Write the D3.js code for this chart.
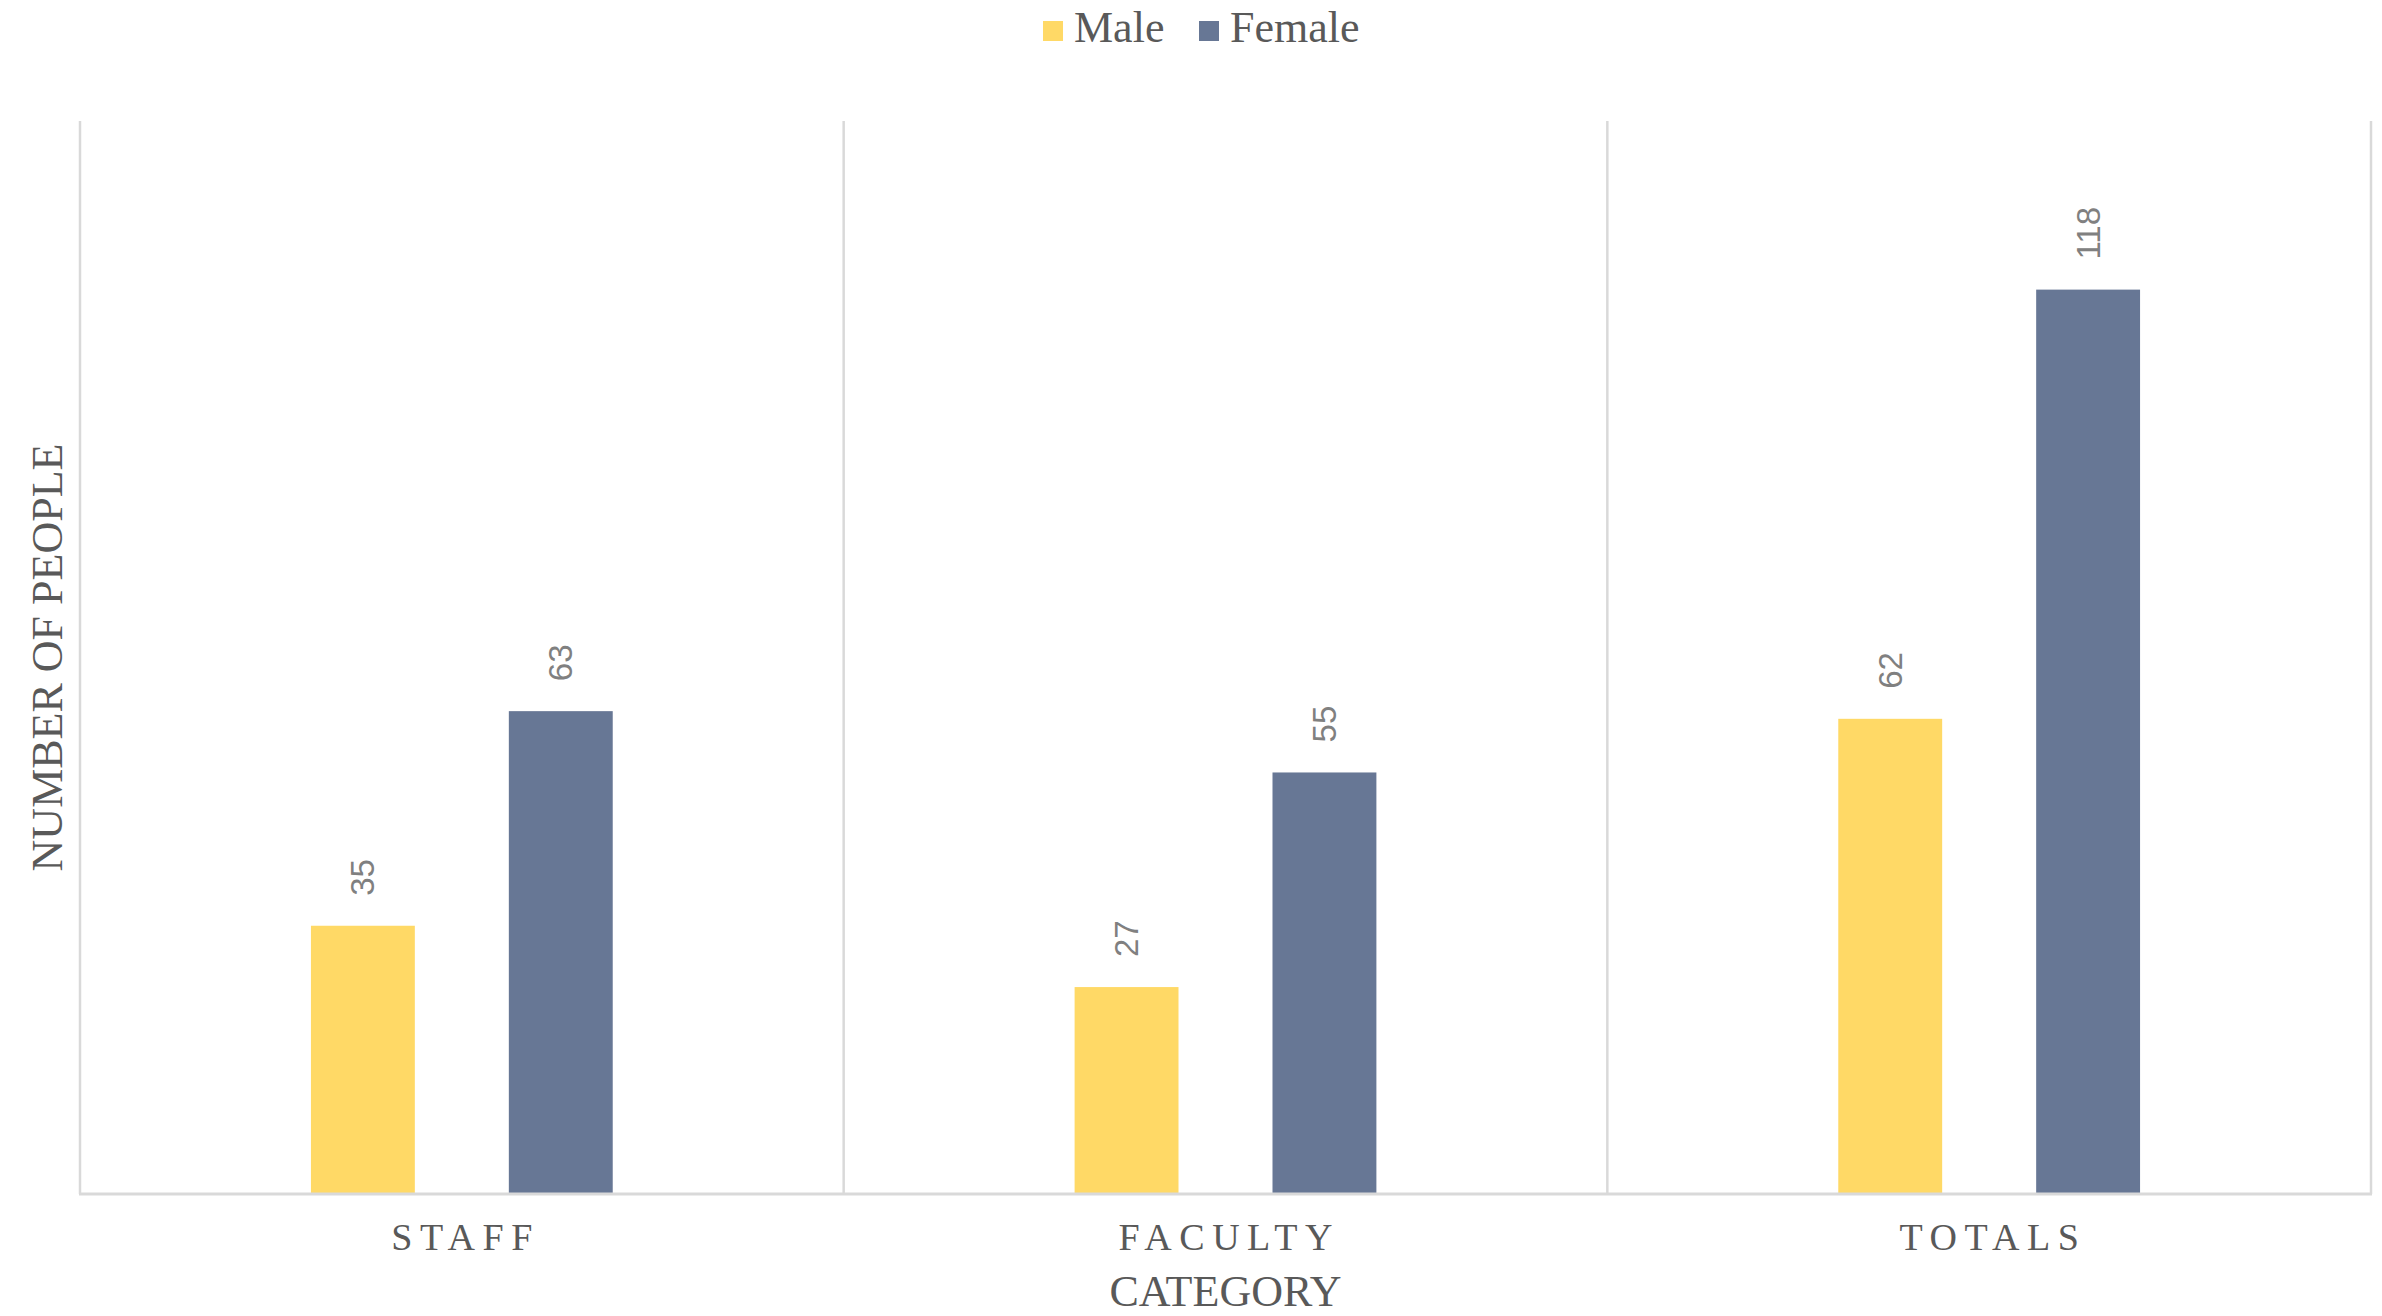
<!DOCTYPE html>
<html>
<head>
<meta charset="utf-8">
<script src="https://cdn.jsdelivr.net/npm/d3@7"></script>
<style>
  html, body { margin: 0; padding: 0; background: #ffffff; }
  svg { display: block; }
</style>
</head>
<body>
<script>
const categories = ["STAFF", "FACULTY", "TOTALS"];
const seriesNames = ["Male", "Female"];
const maleValues = [35, 27, 62];
const femaleValues = [63, 55, 118];
const seriesColors = ["#FFD966", "#677795"];
const yAxisTitle = "NUMBER OF PEOPLE";
const xAxisTitle = "CATEGORY";

const W = 2382, H = 1316;
const plot = { left: 80, right: 2371, top: 121, bottom: 1194 };

const svg = d3.select("body").append("svg").attr("width", W).attr("height", H);

const x = d3.scaleBand().domain(categories).range([plot.left, plot.right]).padding(0);
const xs = d3.scaleBand().domain(seriesNames).range([0, x.bandwidth()])
  .paddingInner(0.475).paddingOuter(1.167);
const y = d3.scaleLinear().domain([0, 140]).range([plot.bottom, plot.top]);

const data = categories.map((c, i) => ({
  cat: c,
  vals: [ { s: "Male", v: maleValues[i] }, { s: "Female", v: femaleValues[i] } ]
}));

// vertical gridlines at category boundaries
const bounds = categories.map(c => x(c)).concat([x(categories[categories.length - 1]) + x.bandwidth()]);
svg.append("g").selectAll("line").data(bounds).join("line")
  .attr("x1", d => d).attr("x2", d => d)
  .attr("y1", plot.top).attr("y2", plot.bottom)
  .attr("stroke", "#d9d9d9").attr("stroke-width", 2.5);

// bars
const groups = svg.append("g").selectAll("g").data(data).join("g")
  .attr("transform", d => `translate(${x(d.cat)},0)`);

groups.selectAll("rect").data(d => d.vals).join("rect")
  .attr("x", d => xs(d.s))
  .attr("width", xs.bandwidth())
  .attr("y", d => y(d.v))
  .attr("height", d => y(0) - y(d.v))
  .attr("fill", (d, i) => seriesColors[seriesNames.indexOf(d.s)]);

// data labels (rotated)
groups.selectAll("text").data(d => d.vals).join("text")
  .attr("transform", d => `translate(${xs(d.s) + xs.bandwidth() / 2},${y(d.v) - 30}) rotate(-90)`)
  .attr("text-anchor", "start")
  .attr("dominant-baseline", "central")
  .attr("font-family", "'Liberation Sans', Arial, sans-serif")
  .attr("font-size", 33)
  .attr("fill", "#808080")
  .text(d => d.v);

// x axis line
svg.append("line")
  .attr("x1", plot.left - 1).attr("x2", plot.right + 1)
  .attr("y1", plot.bottom).attr("y2", plot.bottom)
  .attr("stroke", "#d9d9d9").attr("stroke-width", 3);

// category labels
const ls = 7.5;
svg.append("g").selectAll("text").data(categories).join("text")
  .attr("x", d => x(d) + x.bandwidth() / 2 + ls / 2)
  .attr("y", 1250)
  .attr("text-anchor", "middle")
  .attr("font-family", "'Liberation Serif', 'Times New Roman', serif")
  .attr("font-size", 38)
  .attr("letter-spacing", ls)
  .attr("fill", "#595959")
  .text(d => d);

// x axis title
svg.append("text")
  .attr("x", (plot.left + plot.right) / 2)
  .attr("y", 1306)
  .attr("text-anchor", "middle")
  .attr("font-family", "'Liberation Serif', 'Times New Roman', serif")
  .attr("font-size", 44)
  .attr("fill", "#595959")
  .text(xAxisTitle);

// y axis title
svg.append("text")
  .attr("transform", `translate(62,${(plot.top + plot.bottom) / 2}) rotate(-90)`)
  .attr("text-anchor", "middle")
  .attr("font-family", "'Liberation Serif', 'Times New Roman', serif")
  .attr("font-size", 44)
  .attr("fill", "#595959")
  .text(yAxisTitle);

// legend
const legendX = [1043, 1199];
const leg = svg.append("g").selectAll("g").data(seriesNames).join("g")
  .attr("transform", (d, i) => `translate(${legendX[i]},0)`);
leg.append("rect")
  .attr("x", 0).attr("y", 21).attr("width", 20).attr("height", 20)
  .attr("fill", (d, i) => seriesColors[i]);
leg.append("text")
  .attr("x", 31).attr("y", 42)
  .attr("font-family", "'Liberation Serif', 'Times New Roman', serif")
  .attr("font-size", 44)
  .attr("fill", "#595959")
  .text(d => d);
</script>
</body>
</html>
